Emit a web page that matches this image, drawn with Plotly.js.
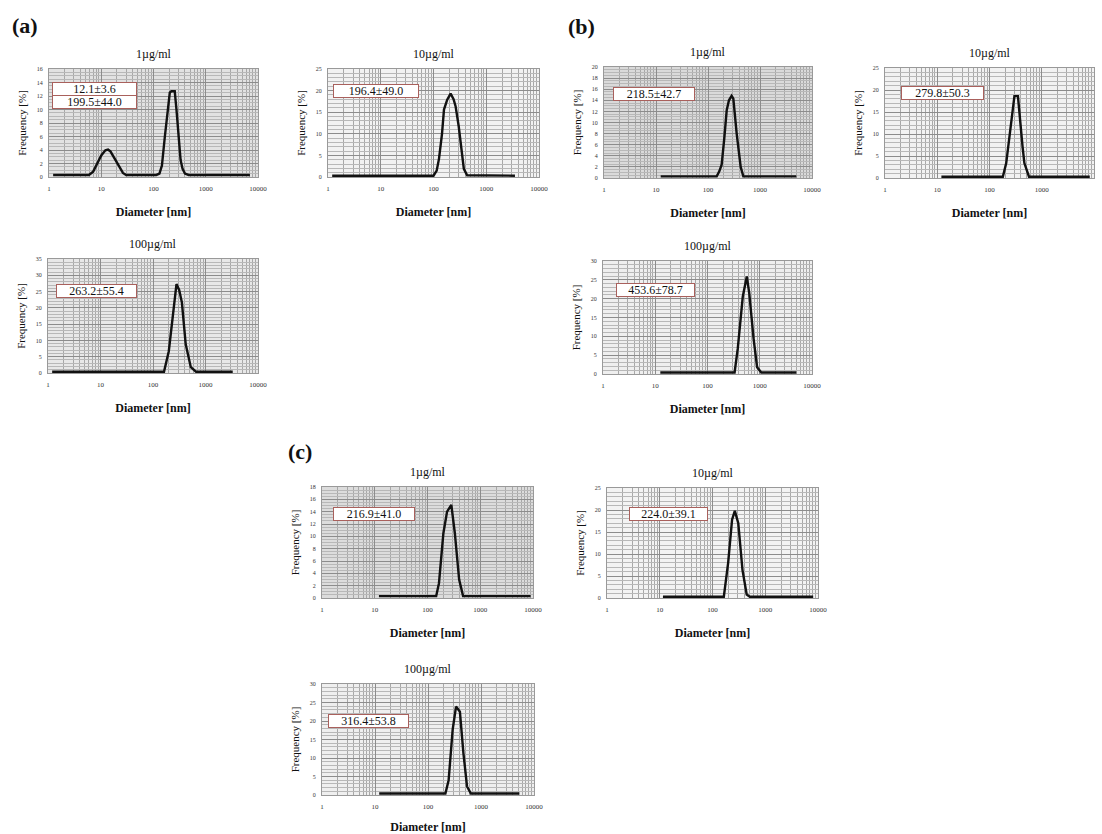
<!DOCTYPE html>
<html><head><meta charset="utf-8">
<script src="https://cdn.plot.ly/plotly-3.0.1.min.js"></script>
<style>html,body{margin:0;padding:0;background:#fff}</style>
</head><body><div id="chart" style="width:1102px;height:834px"></div>
<script>
// ---------- data ----------
const panelLabels = ['(a)', '(b)', '(c)'];
const concTitles = ['1µg/ml', '10µg/ml', '1µg/ml', '10µg/ml', '100µg/ml', '100µg/ml', '1µg/ml', '10µg/ml', '100µg/ml'];
const sizeLabels = [['12.1±3.6', '199.5±44.0'], ['196.4±49.0'], ['218.5±42.7'], ['279.8±50.3'], ['263.2±55.4'], ['453.6±78.7'], ['216.9±41.0'], ['224.0±39.1'], ['316.4±53.8']];
const xTickVals = [1, 10, 100, 1000, 10000];
const xTickText = ['1', '10', '100', '1000', '10000'];
const yMax = [16, 25, 20, 25, 35, 30, 18, 25, 30];
const yStep = [2, 5, 2, 5, 5, 5, 2, 5, 5];

// (a) 1 µg/ml
const diamA1 = [1.2, 5.8, 7, 8.5, 10, 12, 13.5, 15, 18, 22, 26, 30, 113, 130, 145, 165, 185, 205, 220, 255, 275, 300, 330, 360, 400, 470, 7000];
const freqA1 = [0.3, 0.3, 0.8, 2, 3.2, 3.95, 4.05, 3.8, 2.8, 1.5, 0.6, 0.3, 0.3, 0.5, 1.7, 6, 10, 12.5, 12.7, 12.7, 10, 6.5, 2.5, 1.2, 0.5, 0.3, 0.3];
// (a) 10 µg/ml
const diamA2 = [1.2, 100, 115, 127, 145, 158, 182, 211, 240, 262, 300, 340, 376, 434, 3500];
const freqA2 = [0.3, 0.3, 1.5, 4.2, 10, 15.6, 17.9, 19.3, 18, 16.4, 11.8, 6, 1.9, 0.4, 0.3];
// (b) 1 µg/ml
const diamB1 = [12.3, 147, 165, 183, 205, 229, 253, 285, 307, 356, 425, 478, 5000];
const freqB1 = [0.3, 0.3, 1.2, 2.4, 7, 12.2, 14, 14.8, 14.3, 8, 2, 0.3, 0.3];
// (b) 10 µg/ml
const diamB2 = [12, 180, 209, 240, 270, 300, 350, 390, 430, 465, 570, 8300];
const freqB2 = [0.3, 0.3, 3.4, 9.5, 15.4, 18.6, 18.6, 11.7, 7, 3.4, 0.3, 0.3];
// (a) 100 µg/ml
const diamA3 = [1.2, 162, 200, 235, 280, 315, 355, 420, 525, 660, 3300];
const freqA3 = [0.4, 0.4, 6.7, 17.4, 27.3, 25.5, 21.7, 8.8, 1.8, 0.4, 0.4];
// (b) 100 µg/ml
const diamB3 = [12.5, 330, 380, 473, 565, 630, 760, 890, 1070, 5000];
const freqB3 = [0.4, 0.4, 6.8, 20.5, 25.9, 21.4, 9.5, 1.8, 0.4, 0.4];
// (c) 1 µg/ml
const diamC1 = [12, 146, 165, 200, 235, 283, 330, 398, 473, 9000];
const freqC1 = [0.3, 0.3, 2.4, 10.5, 14, 15.1, 10.5, 3, 0.3, 0.3];
// (c) 10 µg/ml
const diamC2 = [11.5, 164, 198, 235, 265, 308, 370, 445, 510, 8100];
const freqC2 = [0.3, 0.3, 8, 17.8, 19.8, 17, 6.4, 0.8, 0.3, 0.3];
// (c) 100 µg/ml
const diamC3 = [12, 213, 245, 292, 338, 400, 465, 545, 645, 5300];
const freqC3 = [0.4, 0.4, 4, 17.7, 23.9, 22.5, 11.4, 2.3, 0.4, 0.4];

const diams = [diamA1, diamA2, diamB1, diamB2, diamA3, diamB3, diamC1, diamC2, diamC3];
const freqs = [freqA1, freqA2, freqB1, freqB2, freqA3, freqB3, freqC1, freqC2, freqC3];

// ---------- layout geometry (pixels) ----------
const W = 1102, H = 834;
const boxes = [ // [x0, x1, y0(top), y1(bottom)]
  [49, 258, 69, 177], [328, 539, 69, 177], [604, 812, 67, 178], [885, 1094, 68, 178],
  [48, 258, 259, 373], [603, 812, 261, 374],
  [322, 533, 487, 598], [607, 818, 488, 598], [322, 534, 684, 795]
];
const bgCols = ['#e2e2e2', '#f2f2f2', '#dadada', '#f2f2f2', '#e8e8e8', '#efefef', '#dcdcdc', '#f3f3f3', '#efefef'];
// label boxes: [centre x, centre y, width]
const labelBoxes = [[94.5, 95, 85], [376, 90.5, 86], [654, 94, 82], [942.5, 93, 83], [96.5, 291, 81], [655.5, 289.5, 79], [374, 514, 82], [668.5, 513.5, 79], [368.5, 721, 81]];
const panelPos = [[25, 25], [581, 26], [300, 451]];

const px = x => x / W;
const py = y => 1 - y / H;
const serif = 'Liberation Serif, Times New Roman, serif';

const data = [];
const layout = {
  width: W, height: H,
  margin: {l: 0, r: 0, t: 0, b: 0},
  paper_bgcolor: '#ffffff', plot_bgcolor: 'rgba(0,0,0,0)',
  showlegend: false,
  font: {family: serif, color: '#111'},
  annotations: [], shapes: []
};

for (let i = 0; i < 9; i++) {
  const s = i === 0 ? '' : String(i + 1);
  const b = boxes[i];
  data.push({
    type: 'scatter', mode: 'lines',
    x: diams[i], y: freqs[i],
    xaxis: 'x' + s, yaxis: 'y' + s,
    line: {color: '#111', width: 2.4},
    hoverinfo: 'skip'
  });
  layout['xaxis' + s] = {
    type: 'log', range: [0, 4], domain: [px(b[0]), px(b[1])], anchor: 'y' + s,
    tickmode: 'array', tickvals: xTickVals, ticktext: xTickText,
    tickfont: {family: serif, size: 7, color: '#333'}, ticklabelstandoff: 5,
    ticks: '', showline: true, mirror: true, linecolor: '#999', linewidth: 1,
    showgrid: true, gridcolor: '#8c8c8c', gridwidth: 1,
    minor: {dtick: 'D1', showgrid: true, gridcolor: '#a8a8a8', gridwidth: 1, ticks: ''},
    zeroline: false, fixedrange: true,
    title: {text: 'Diameter [nm]', font: {family: serif, size: 12, color: '#111', weight: 'bold'}, standoff: 15}
  };
  layout['yaxis' + s] = {
    range: [0, yMax[i]], dtick: yStep[i], domain: [py(b[3]), py(b[2])], anchor: 'x' + s,
    tickfont: {family: serif, size: 6, color: '#333'}, ticklabelstandoff: 4,
    ticks: '', showline: true, mirror: true, linecolor: '#999', linewidth: 1,
    showgrid: true, gridcolor: '#8c8c8c', gridwidth: 1,
    minor: {dtick: yStep[i] / (yStep[i] === 2 ? 4 : 5), showgrid: true, gridcolor: '#b8b8b8', gridwidth: 1, ticks: ''},
    zeroline: false, fixedrange: true,
    title: {text: 'Frequency [%]', font: {family: serif, size: 11, color: '#111'}, standoff: 7}
  };
  layout.shapes.push({
    type: 'rect', xref: 'x' + s + ' domain', yref: 'y' + s + ' domain',
    x0: 0, x1: 1, y0: 0, y1: 1, layer: 'below',
    fillcolor: bgCols[i], line: {width: 0}
  });
  layout.annotations.push({
    text: concTitles[i], xref: 'paper', yref: 'paper',
    x: px((b[0] + b[1]) / 2), y: py(b[2] - 6), xanchor: 'center', yanchor: 'bottom',
    showarrow: false, font: {family: serif, size: 12, color: '#111'}
  });
  const lb = labelBoxes[i];
  const rows = sizeLabels[i];
  const rowH = 13;
  rows.forEach((t, k) => {
    const cy = lb[1] - (rows.length - 1) * rowH / 2 + k * rowH;
    layout.annotations.push({
      text: t, xref: 'paper', yref: 'paper', x: px(lb[0]), y: py(cy),
      xanchor: 'center', yanchor: 'middle', showarrow: false,
      width: lb[2] - 2, height: rowH - 1, borderpad: 0, borderwidth: 1,
      bordercolor: '#a9605c', bgcolor: '#ffffff',
      font: {family: serif, size: 12, color: '#111'}
    });
  });
}
panelLabels.forEach((t, k) => {
  layout.annotations.push({
    text: '<b>' + t + '</b>', xref: 'paper', yref: 'paper',
    x: px(panelPos[k][0]), y: py(panelPos[k][1]), xanchor: 'center', yanchor: 'middle',
    showarrow: false, font: {family: serif, size: 22, color: '#111'}
  });
});

Plotly.newPlot('chart', data, layout, {staticPlot: true, displayModeBar: false});
</script></body></html>
